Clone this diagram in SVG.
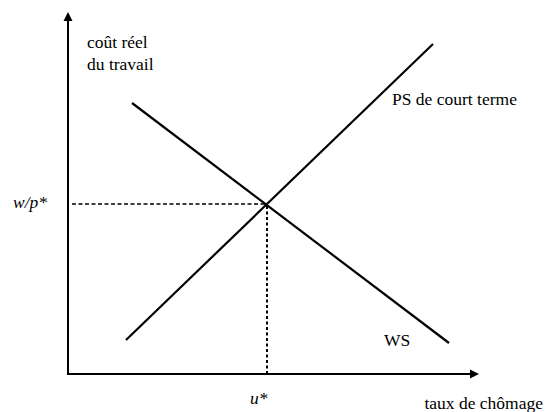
<svg xmlns="http://www.w3.org/2000/svg" width="549" height="412" viewBox="0 0 549 412">
<style>
text{font-family:"Liberation Serif","Times New Roman",serif;font-size:17.5px;fill:#000}
.it{font-style:italic}
.ax{stroke:#000;stroke-width:2;fill:none}
.curve{stroke:#000;stroke-width:2.2;fill:none}
.dash{stroke:#000;stroke-width:1.3;stroke-dasharray:4 2.5;fill:none}
.dot{stroke:#000;stroke-width:2;stroke-dasharray:3 2.5;fill:none}
</style>
<rect width="549" height="412" fill="#fff"/>
<g id="axes">
<line class="ax" x1="68" y1="374" x2="68" y2="20"/>
<polygon points="68,12 63.5,21 72.5,21" fill="#000"/>
<line class="ax" x1="67" y1="374" x2="471" y2="374"/>
<polygon points="479,374 470,369.5 470,378.5" fill="#000"/>
</g>
<g id="connectors">
<line class="curve" x1="126" y1="340" x2="433" y2="44"/>
<line class="curve" x1="132" y1="103" x2="449" y2="343"/>
<line class="dash" x1="72" y1="204" x2="267" y2="204"/>
<line class="dot" x1="267" y1="206" x2="267" y2="374"/>
</g>
<g id="label-y">
<text x="87" y="48">coût réel</text>
<text x="87" y="70">du travail</text>
</g>
<g id="label-wp"><text class="it" x="13" y="208">w/p*</text></g>
<g id="label-ps"><text x="392" y="105">PS de court terme</text></g>
<g id="label-ws"><text x="384" y="346">WS</text></g>
<g id="label-u"><text class="it" x="250" y="404">u*</text></g>
<g id="label-x"><text x="543" y="409" text-anchor="end">taux de chômage</text></g>
</svg>
